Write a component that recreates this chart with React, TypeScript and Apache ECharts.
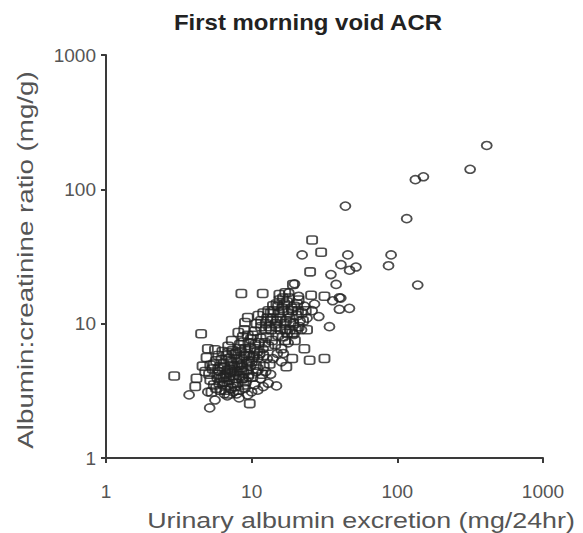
import React, { useEffect, useRef } from "react";
import * as echarts from "echarts";

const titleText = "First morning void ACR";
const xTitle = "Urinary albumin excretion (mg/24hr)";
const yTitle = "Albumin:creatinine ratio (mg/g)";
const xTicks = [1, 10, 100, 1000];
const yTicks = [1, 10, 100, 1000];

// Square markers [albumin excretion mg/24hr, ACR mg/g]
const squares: number[][] = [
  [4.8, 4.4], [5.2, 3.8], [5.5, 5.0], [5.8, 4.2], [6.0, 3.6], [6.2, 5.4], [5.4, 4.6], [6.4, 4.0],
  [4.9, 5.6], [5.7, 3.3], [6.1, 4.8], [6.6, 3.2], [5.3, 3.1], [6.3, 6.2], [5.9, 5.8],
  [6.8, 4.5], [7.0, 3.8], [7.2, 5.2], [7.5, 4.1], [7.8, 6.0], [8.0, 3.6], [8.2, 4.9], [8.5, 5.5],
  [8.8, 4.3], [9.0, 6.5], [9.3, 5.0], [6.9, 6.8], [7.3, 7.5], [7.7, 3.4], [8.3, 7.0], [8.7, 8.0],
  [9.5, 7.2], [7.1, 4.6], [7.9, 5.4], [8.6, 3.9], [9.2, 4.5], [6.7, 5.8], [7.4, 6.3], [8.1, 8.6],
  [9.6, 5.8], [7.6, 4.8], [8.4, 6.2], [9.1, 3.7], [6.6, 4.2], [7.0, 3.0], [8.9, 9.0],
  [10, 5.2], [10.5, 6.5], [11, 4.6], [11.5, 7.8], [12, 5.8], [12.5, 9.0], [13, 6.8], [13.5, 10.5],
  [10.2, 8.2], [10.8, 10.0], [11.3, 6.0], [11.8, 4.2], [12.3, 7.2], [12.8, 11.0], [13.3, 5.0],
  [10.1, 4.0], [10.6, 7.0], [11.6, 9.5], [12.6, 8.0], [13.8, 7.5], [10.4, 5.8], [11.1, 11.5],
  [12.1, 4.8], [13.6, 9.0],
  [14.2, 12.5], [14.8, 9.5], [15.2, 13.5], [15.8, 11.0], [16.3, 8.0], [16.8, 14.0], [17.2, 10.5],
  [17.8, 12.0], [18.3, 9.0], [18.8, 13.0], [19.3, 10.0], [19.8, 7.5], [20.3, 11.5], [14.5, 7.0],
  [15.5, 15.0], [16.0, 6.5], [17.0, 7.5], [18, 15.5], [19, 8.5], [20.5, 14], [21, 9.5], [15, 10.5],
  [16.5, 12.5], [17.5, 8.5],
  [5.1, 4.2], [5.5, 3.5], [5.9, 4.6], [6.2, 3.9], [6.5, 4.7], [6.8, 3.5], [7.1, 4.3], [7.4, 3.6],
  [7.7, 4.4], [8.0, 5.1], [8.3, 4.1], [8.6, 4.7], [8.9, 5.8], [9.2, 6.0], [9.5, 4.2], [9.8, 6.6],
  [10.2, 5.6], [10.7, 4.9], [6.4, 5.0], [7.0, 5.5], [7.6, 5.9], [8.2, 6.5], [8.8, 7.3], [9.4, 8.2],
  [6.9, 6.1], [5.7, 5.3], [7.3, 4.9], [8.5, 4.5], [9.9, 7.7], [10.5, 8.8], [6.1, 3.2], [7.8, 3.9],
  [8.8, 3.5], [5.2, 4.9], [9.6, 5.3], [10.9, 6.2], [11.2, 7.2], [7.2, 3.3], [6.5, 3.7], [8.1, 3.2],
  [14, 11], [14.6, 10], [15.4, 12], [16.2, 13], [16.8, 10], [17.5, 14.5], [18.2, 11], [19, 12.5],
  [15.8, 9], [13.5, 12], [12.5, 10], [12, 12], [16.4, 15.5], [17, 9], [18.5, 10.2], [19.6, 13.5],
  [20, 9], [14.8, 14], [13.2, 9.5], [11.6, 10.5], [15.2, 8.2], [20.8, 12.5], [22.5, 10.5], [23.5, 12.5],
  [4.5, 8.4], [5.0, 6.5], [5.6, 6.4], [4.6, 4.83], [2.94, 4.08], [4.18, 3.92], [4.1, 3.4],
  [9.7, 2.54], [9, 10.2], [9.4, 11.1], [8.5, 16.8], [11.9, 16.8], [19.2, 19.6], [26, 42], [30, 34],
  [25.2, 24.3], [25.6, 16.3], [31.6, 16], [25, 5.35], [31.6, 5.5], [17.3, 4.77], [14, 13.6],
  [22, 12], [24, 9], [21, 15], [17, 17], [23, 6.5], [19, 5.5], [13, 12.5], [15.5, 16.5]
];

// Circle markers [albumin excretion mg/24hr, ACR mg/g]
const circles: number[][] = [
  [411, 212], [316, 141], [133, 118], [151, 124], [44, 75], [116, 60.5], [90.6, 32.5], [87, 27],
  [138, 19.4], [45.7, 32.5], [52, 26.4], [41, 27.5], [35, 23.2], [38, 19.6], [40, 15.6], [22.2, 32.5],
  [19.7, 19.8], [36, 14.8], [40.9, 15.5], [40, 12.8], [46.9, 13], [28.9, 11.3], [34.2, 9.5],
  [14.8, 3.44], [3.72, 2.95], [5.15, 2.36], [9.4, 2.95], [47, 25],
  [5.0, 3.1], [5.6, 2.7], [6.3, 3.5], [6.8, 2.9], [7.5, 3.1], [8.2, 2.8], [7.0, 4.0], [8.0, 4.4],
  [9.0, 3.3], [6.0, 4.4], [10.5, 3.5], [11.5, 3.9], [12.5, 4.4], [13.5, 4.2], [9.8, 4.8], [11, 5.5],
  [14, 5.5], [15, 6.0], [16, 5.2], [8.5, 5.0], [12, 6.5], [22, 9.0], [24, 11], [26, 12.5], [23, 13.5],
  [21, 16], [27, 14], [18, 17], [13, 3.6],
  [6.5, 3.0], [7.9, 3.0], [8.8, 3.9], [10, 3.1], [11, 3.2], [12, 3.4], [5.8, 3.9], [7.3, 4.4],
  [9.5, 4.0], [10.8, 4.4], [12.8, 5.5], [16.5, 6.0], [17.8, 7.2], [19.5, 8.3], [21.5, 10.5]
];

const FONT = "'Liberation Sans', Arial, sans-serif";

export default function App() {
  const ref = useRef<HTMLDivElement>(null);
  useEffect(() => {
    if (!ref.current) return;
    document.body.style.margin = "0";
    const chart = echarts.init(ref.current, undefined, { renderer: "svg" });
    const markerStyle = { color: "rgba(0,0,0,0)", borderColor: "#222", borderWidth: 1.7 };
    chart.setOption({
      animation: false,
      backgroundColor: "#ffffff",
      grid: { left: 106, right: 40, top: 55, bottom: 75 },
      xAxis: {
        type: "log",
        logBase: 10,
        min: xTicks[0],
        max: xTicks[xTicks.length - 1],
        splitLine: { show: false },
        axisLine: { show: true, lineStyle: { color: "#3a3a3a", width: 2 } },
        axisTick: { show: true, length: 5, lineStyle: { color: "#3a3a3a", width: 2 } },
        minorTick: { show: false },
        axisLabel: {
          fontFamily: FONT, fontSize: 19, color: "#555", margin: 24,
          formatter: (v: number) => String(Math.round(v))
        }
      },
      yAxis: {
        type: "log",
        logBase: 10,
        min: yTicks[0],
        max: yTicks[yTicks.length - 1],
        splitLine: { show: false },
        axisLine: { show: true, lineStyle: { color: "#3a3a3a", width: 2 } },
        axisTick: { show: true, length: 5, lineStyle: { color: "#3a3a3a", width: 2 } },
        axisLabel: {
          fontFamily: FONT, fontSize: 19, color: "#555", margin: 10,
          formatter: (v: number) => String(Math.round(v))
        }
      },
      graphic: [
        {
          type: "text",
          x: 308,
          y: 22,
          scaleX: 1.09,
          style: {
            text: titleText, fill: "#222", font: `bold 22px ${FONT}`,
            textAlign: "center", textVerticalAlign: "middle"
          }
        },
        {
          type: "text",
          x: 361,
          y: 520,
          scaleX: 1.22,
          style: {
            text: xTitle, fill: "#555", font: `22px ${FONT}`,
            textAlign: "center", textVerticalAlign: "middle"
          }
        },
        {
          type: "text",
          x: 25,
          y: 260,
          rotation: Math.PI / 2,
          scaleX: 1.26,
          style: {
            text: yTitle, fill: "#555", font: `22px ${FONT}`,
            textAlign: "center", textVerticalAlign: "middle"
          }
        }
      ],
      series: [
        {
          type: "scatter",
          data: squares,
          symbol: "roundRect",
          symbolSize: [10, 8],
          itemStyle: markerStyle
        },
        {
          type: "scatter",
          data: circles,
          symbol: "circle",
          symbolSize: [10, 8],
          itemStyle: markerStyle
        }
      ]
    });
    return () => chart.dispose();
  }, []);
  return <div ref={ref} style={{ width: 583, height: 533 }} />;
}
